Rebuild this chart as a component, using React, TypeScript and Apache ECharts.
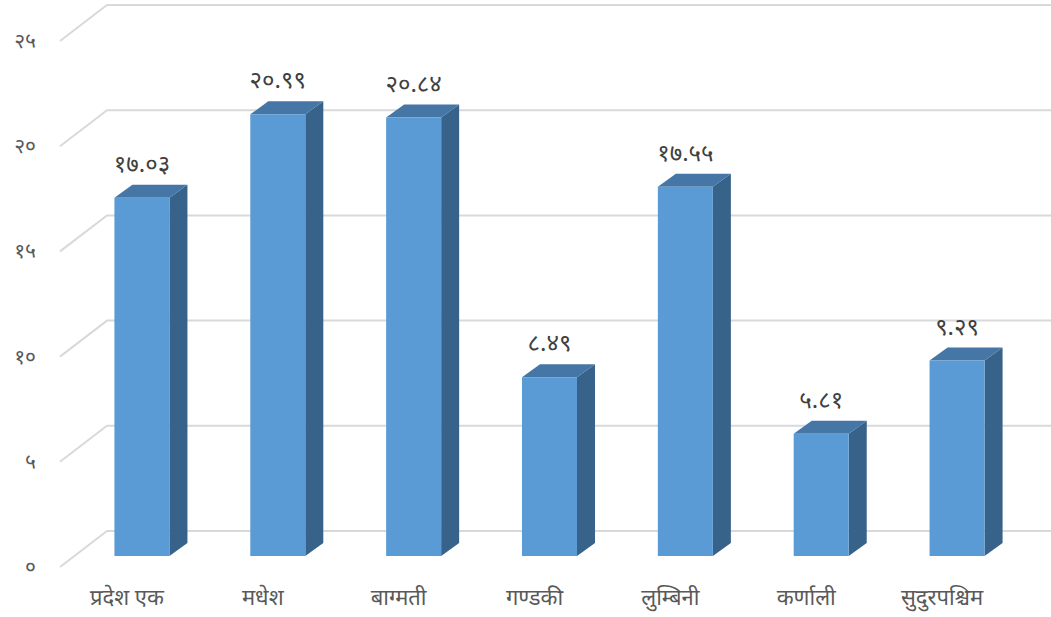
import React, { useEffect, useRef } from "react";
import * as echarts from "echarts";

const categories = ["प्रदेश एक", "मधेश", "बाग्मती", "गण्डकी", "लुम्बिनी", "कर्णाली", "सुदुरपश्चिम"];
const values = [17.03, 20.99, 20.84, 8.49, 17.55, 5.81, 9.29];
const valueLabels = ["१७.०३", "२०.९९", "२०.८४", "८.४९", "१७.५५", "५.८१", "९.२९"];
const yTicks = [0, 5, 10, 15, 20, 25];
const yTickLabels = ["०", "५", "१०", "१५", "२०", "२५"];

const FONT = "'Noto Sans Devanagari', 'Lohit Devanagari', 'Noto Sans', sans-serif";
const TEXT_COLOR = "#595959";

export default function App() {
  const ref = useRef<HTMLDivElement>(null);
  useEffect(() => {
    if (!ref.current) return;
    const chart = echarts.init(ref.current, undefined, { renderer: "svg" });
    const depthDx = 18;
    const depthDy = 13;
    chart.setOption({
      animation: false,
      backgroundColor: "#ffffff",
      grid: { left: 74, right: 26, top: 30, bottom: 61 },
      xAxis: {
        type: "category",
        data: categories,
        axisLine: { show: false },
        axisTick: { show: false },
        axisLabel: {
          color: TEXT_COLOR,
          fontSize: 22,
          fontFamily: FONT,
          margin: 32,
          padding: [0, 30, 0, 0],
        },
      },
      yAxis: {
        type: "value",
        min: 0,
        max: 25,
        interval: 5,
        axisLine: { show: false },
        axisTick: { show: false },
        axisLabel: { show: false },
        splitLine: { show: false },
      },
      series: [
        {
          type: "custom",
          z: 1,
          data: yTicks.map((v, i) => [0, v, i]),
          renderItem: (params: any, api: any) => {
            const cs = params.coordSys;
            const v = api.value(1);
            const i = api.value(2);
            const y = api.coord([0, v])[1];
            const fy = y + 11;
            const by = y - 25;
            const fx = cs.x - 14;
            const bx = fx + 47;
            return {
              type: "group",
              children: [
                {
                  type: "polyline",
                  shape: { points: [[fx, fy], [bx, by], [1051, by]] },
                  style: { stroke: "#d9d9d9", lineWidth: 2, fill: null },
                },
                {
                  type: "text",
                  x: fx - 24,
                  y: fy + 2,
                  style: {
                    text: yTickLabels[i],
                    fill: TEXT_COLOR,
                    font: `21px ${FONT}`,
                    align: "right",
                    verticalAlign: "middle",
                  },
                },
              ],
            };
          },
        },
        {
          type: "custom",
          z: 2,
          data: values.map((v, i) => [i, v]),
          renderItem: (params: any, api: any) => {
            const idx = params.dataIndex;
            const top = api.coord([api.value(0), api.value(1)]);
            const base = api.coord([api.value(0), 0]);
            const w = api.size([1, 0])[0] * 0.405;
            const x0 = top[0] - w / 2;
            const x1 = top[0] + w / 2;
            const yt = top[1];
            const yb = base[1];
            return {
              type: "group",
              children: [
                {
                  type: "polygon",
                  shape: { points: [[x1, yt], [x1 + depthDx, yt - depthDy], [x1 + depthDx, yb - depthDy], [x1, yb]] },
                  style: { fill: "#376289" },
                },
                {
                  type: "polygon",
                  shape: { points: [[x0, yt], [x1, yt], [x1 + depthDx, yt - depthDy], [x0 + depthDx, yt - depthDy]] },
                  style: { fill: "#4576A6" },
                },
                {
                  type: "rect",
                  shape: { x: x0, y: yt, width: w, height: yb - yt },
                  style: { fill: "#5B9BD5" },
                },
                {
                  type: "text",
                  x: top[0],
                  y: yt - 32,
                  style: {
                    text: valueLabels[idx],
                    fill: "#404040",
                    font: `24px ${FONT}`,
                    align: "center",
                    verticalAlign: "middle",
                  },
                },
              ],
            };
          },
        },
      ],
    });
    return () => chart.dispose();
  }, []);
  return (
    <div
      ref={ref}
      style={{ position: "fixed", left: 0, top: 0, width: 1051, height: 617 }}
    />
  );
}
